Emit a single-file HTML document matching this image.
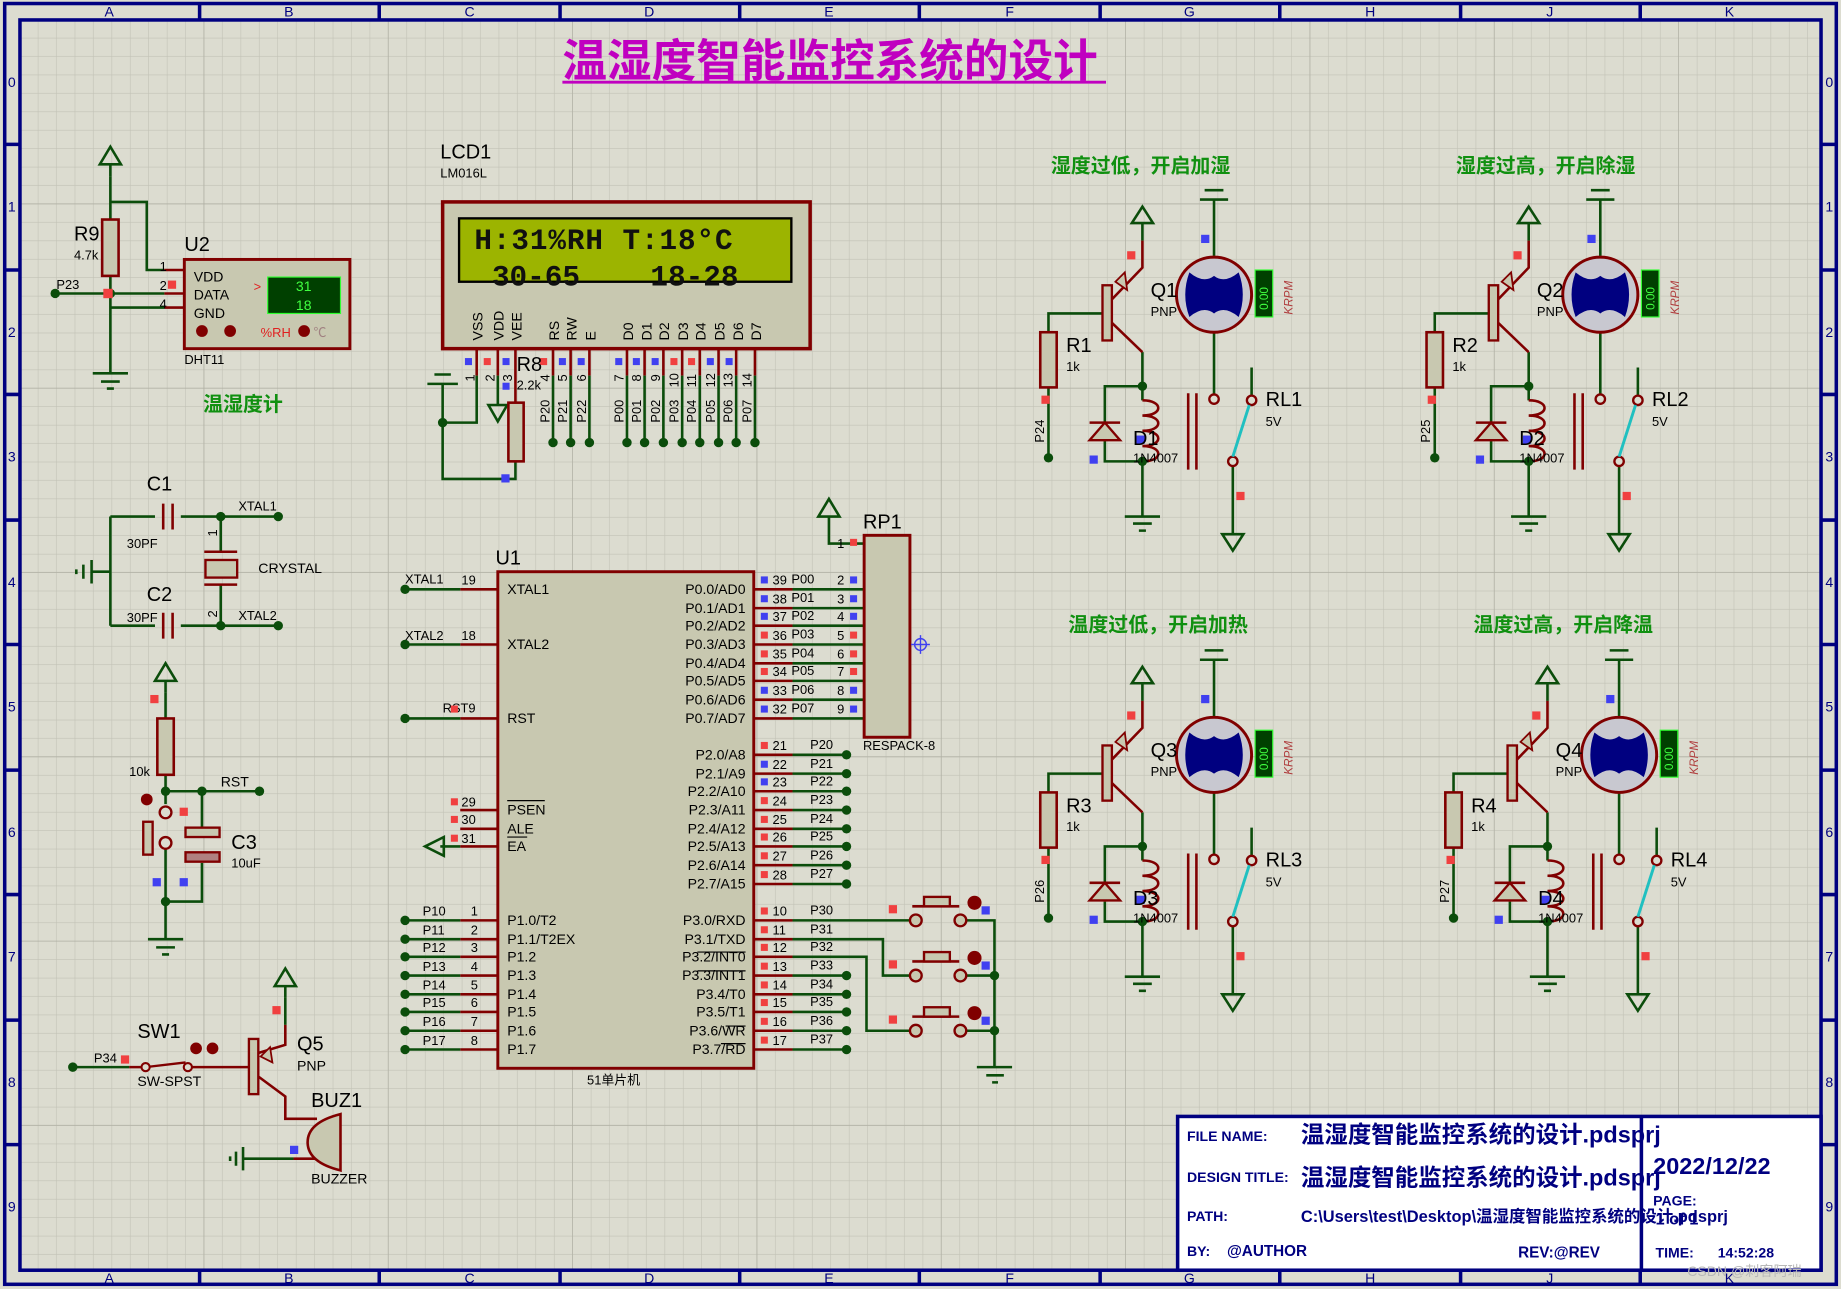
<!DOCTYPE html>
<html><head><meta charset="utf-8"><style>
html,body{margin:0;padding:0;background:#dcdcd0}
svg{display:block}
text{font-family:"Liberation Sans","Noto Sans CJK SC",sans-serif}
text.mono{font-family:"Liberation Mono",monospace}
</style></head><body>
<svg width="1841" height="1289" viewBox="0 0 1568 1098" preserveAspectRatio="none" xmlns="http://www.w3.org/2000/svg">
<defs>
<pattern id="gs" width="15.7" height="15.7" patternUnits="userSpaceOnUse" x="17" y="17">
<path d="M15.7 0V15.7H0" fill="none" stroke="#c2c2b6" stroke-width="1"/></pattern>
<pattern id="gm" width="157" height="157" patternUnits="userSpaceOnUse" x="17" y="17">
<path d="M157 0V157H0" fill="none" stroke="#b0b0a4" stroke-width="1.2"/></pattern>
<g id="relay">
<g fill="none" stroke="#0b4d0b" stroke-width="2.2">
<path d="M893 283V267H941 M893 330V390 M973 205V190 M973 300V341 M973 329H941V360 M941 376V393H973 M973 393V440 M1034 170V218 M1034 283V336 M1066 313V337 M1050 397V455"/>
<path d="M958 440H988 M965 446H981 M970 452H976 M1022 170H1046 M1026 162H1042"/>
<path d="M964 190L973 176L982 190Z M1041 455H1059L1050 469Z"/>
</g>
<rect x="886" y="283" width="14" height="47" fill="#c8c8b0" stroke="#800000" stroke-width="2.2"/>
<rect x="939" y="243" width="8" height="47" fill="#c8c8b0" stroke="#800000" stroke-width="2"/>
<g fill="none" stroke="#800000" stroke-width="2.2">
<path d="M947 255L973 228V205 M947 275L973 300"/>
<path d="M973 341c18 0 18 13 0 13c18 0 18 13 0 13c18 0 18 13 0 13c18 0 18 13 0 13"/>
<path d="M1012 335V400 M1019 335V400"/>
<path d="M928 360H954 M941 360V376"/>
</g>
<path d="M950 240L958 232L960 247Z" fill="#c8c8b0" stroke="#800000" stroke-width="1.5"/>
<path d="M928 375H954L941 360Z" fill="#c8c8b0" stroke="#800000" stroke-width="2"/>
<circle cx="1034" cy="251" r="32" fill="#c8c8d0" stroke="#800000" stroke-width="2.5"/>
<path d="M1013 232Q1025 242 1034 235Q1043 242 1055 232Q1062 251 1055 270Q1043 260 1034 267Q1025 260 1013 270Q1006 251 1013 232Z" fill="#000080"/>
<ellipse cx="1034" cy="251" rx="13" ry="12" fill="#000080"/>
<circle cx="1034" cy="340" r="4" fill="#dcdcd0" stroke="#800000" stroke-width="2"/>
<circle cx="1066" cy="341" r="4" fill="#dcdcd0" stroke="#800000" stroke-width="2"/>
<circle cx="1050" cy="393" r="4" fill="#dcdcd0" stroke="#800000" stroke-width="2"/>
<path d="M1064 345L1050 389" stroke="#20c0c0" stroke-width="2.5"/>
<rect x="1069" y="230" width="15" height="40" fill="#004000" stroke="#30ff30" stroke-width="1"/>
<circle cx="893" cy="390" r="4" fill="#0b4d0b"/><circle cx="973" cy="329" r="4" fill="#0b4d0b"/><circle cx="973" cy="393" r="4" fill="#0b4d0b"/>
<rect x="960" y="214" width="7" height="7" fill="#f04040"/><rect x="1023" y="200" width="7" height="7" fill="#4040f0"/>
<rect x="887" y="337" width="7" height="7" fill="#f04040"/><rect x="928" y="388" width="7" height="7" fill="#4040f0"/>
<rect x="968" y="371" width="7" height="7" fill="#4040f0"/><rect x="1053" y="419" width="7" height="7" fill="#f04040"/>
</g>
<g id="gnd" fill="none" stroke="#0b4d0b" stroke-width="2.2"><path d="M-15 0H15 M-8 7H8 M-3 13H3"/></g>
<g id="pwr" fill="none" stroke="#0b4d0b" stroke-width="2.2"><path d="M-9 15L0 0L9 15Z M0 15V25"/></g>
</defs>
<rect width="1568" height="1098" fill="#dcdcd0"/>
<rect x="17" y="17" width="1534" height="1065" fill="url(#gs)"/>
<rect x="17" y="17" width="1534" height="1065" fill="url(#gm)"/>
<!-- frame -->
<g fill="none" stroke="#000080" stroke-width="3">
<rect x="4" y="3" width="1560" height="1091"/><rect x="17" y="17" width="1534" height="1065"/>
<path d="M170 3V17 M323 3V17 M477 3V17 M630 3V17 M783 3V17 M937 3V17 M1090 3V17 M1244 3V17 M1397 3V17 M170 1082V1094 M323 1082V1094 M477 1082V1094 M630 1082V1094 M783 1082V1094 M937 1082V1094 M1090 1082V1094 M1244 1082V1094 M1397 1082V1094"/>
<path d="M4 123H17 M4 230H17 M4 336H17 M4 443H17 M4 549H17 M4 656H17 M4 762H17 M4 869H17 M4 975H17 M1551 123H1564 M1551 230H1564 M1551 336H1564 M1551 443H1564 M1551 549H1564 M1551 656H1564 M1551 762H1564 M1551 869H1564 M1551 975H1564"/>
</g>
<g fill="#000080" font-size="12" text-anchor="middle">
<text x="93" y="14">A</text><text x="246" y="14">B</text><text x="400" y="14">C</text><text x="553" y="14">D</text><text x="706" y="14">E</text><text x="860" y="14">F</text><text x="1013" y="14">G</text><text x="1167" y="14">H</text><text x="1320" y="14">J</text><text x="1473" y="14">K</text>
<text x="93" y="1093">A</text><text x="246" y="1093">B</text><text x="400" y="1093">C</text><text x="553" y="1093">D</text><text x="706" y="1093">E</text><text x="860" y="1093">F</text><text x="1013" y="1093">G</text><text x="1167" y="1093">H</text><text x="1320" y="1093">J</text><text x="1473" y="1093">K</text>
<text x="10" y="74">0</text><text x="10" y="180">1</text><text x="10" y="287">2</text><text x="10" y="393">3</text><text x="10" y="500">4</text><text x="10" y="606">5</text><text x="10" y="713">6</text><text x="10" y="819">7</text><text x="10" y="926">8</text><text x="10" y="1032">9</text>
<text x="1558" y="74">0</text><text x="1558" y="180">1</text><text x="1558" y="287">2</text><text x="1558" y="393">3</text><text x="1558" y="500">4</text><text x="1558" y="606">5</text><text x="1558" y="713">6</text><text x="1558" y="819">7</text><text x="1558" y="926">8</text><text x="1558" y="1032">9</text>
</g>
<!-- title -->
<text x="479" y="65" font-size="38" font-weight="bold" fill="#c000c0">温湿度智能监控系统的设计</text>
<path d="M479 70H942" stroke="#c000c0" stroke-width="2.5"/>

<!-- DHT11 -->
<use href="#pwr" x="94" y="125"/>
<g fill="none" stroke="#0b4d0b" stroke-width="2.2">
<path d="M94 150V187 M94 172H125V230H140 M47 250H140 M94 235V318 M94 262H140"/>
</g>
<use href="#gnd" x="94" y="318"/>
<path d="M140 230H157 M140 250H157 M140 262H157" stroke="#800000" stroke-width="2.2"/>
<rect x="87" y="187" width="14" height="48" fill="#c8c8b0" stroke="#800000" stroke-width="2.2"/>
<circle cx="47" cy="250" r="4" fill="#0b4d0b"/><circle cx="94" cy="250" r="4" fill="#0b4d0b"/>
<rect x="88" y="246" width="8" height="8" fill="#f04040"/><rect x="143" y="239" width="7" height="7" fill="#f04040"/>
<rect x="157" y="221" width="141" height="76" fill="#c8c8b0" stroke="#800000" stroke-width="2.5"/>
<rect x="228" y="236" width="62" height="31" fill="#004000" stroke="#30ff30" stroke-width="1"/>
<text x="252" y="248" font-size="12" fill="#40ff40">31</text><text x="252" y="264" font-size="12" fill="#40ff40">18</text>
<text x="216" y="248" font-size="11" fill="#e02020">&gt;</text>
<circle cx="172" cy="282" r="5" fill="#800000"/><circle cx="196" cy="282" r="5" fill="#800000"/><circle cx="259" cy="282" r="5" fill="#800000"/>
<text x="222" y="287" font-size="11" fill="#e02020">%RH</text><text x="267" y="287" font-size="11" fill="#a08080">℃</text>
<g font-size="12" fill="#000"><text x="165" y="240">VDD</text><text x="165" y="255">DATA</text><text x="165" y="271">GND</text>
<text x="136" y="231" font-size="11">1</text><text x="136" y="247" font-size="11">2</text><text x="136" y="263" font-size="11">4</text>
<text x="157" y="310" font-size="11">DHT11</text><text x="48" y="246" font-size="11">P23</text><text x="63" y="221" font-size="11">4.7k</text></g>
<text x="157" y="214" font-size="17">U2</text><text x="63" y="205" font-size="17">R9</text>
<text x="173" y="350" font-size="17" font-weight="bold" fill="#109010">温湿度计</text>

<!-- LCD -->
<text x="375" y="135" font-size="17">LCD1</text><text x="375" y="151" font-size="11">LM016L</text>
<rect x="377" y="172" width="313" height="125" fill="#c8c8b0" stroke="#800000" stroke-width="3"/>
<rect x="391" y="186" width="283" height="54" fill="#9cb400" stroke="#000" stroke-width="2"/>
<text class="mono" x="404" y="212" font-size="25" font-weight="bold" fill="#101010" xml:space="preserve" textLength="220">H:31%RH T:18°C</text>
<text class="mono" x="404" y="243" font-size="25" font-weight="bold" fill="#101010" xml:space="preserve"> 30-65    18-28</text>
<g font-size="12" fill="#000">
<text transform="translate(411,290) rotate(-90)">VSS</text><text transform="translate(429,290) rotate(-90)">VDD</text><text transform="translate(444,290) rotate(-90)">VEE</text>
<text transform="translate(476,290) rotate(-90)">RS</text><text transform="translate(491,290) rotate(-90)">RW</text><text transform="translate(507,290) rotate(-90)">E</text>
<text transform="translate(539,290) rotate(-90)">D0</text><text transform="translate(555,290) rotate(-90)">D1</text><text transform="translate(570,290) rotate(-90)">D2</text><text transform="translate(586,290) rotate(-90)">D3</text><text transform="translate(601,290) rotate(-90)">D4</text><text transform="translate(617,290) rotate(-90)">D5</text><text transform="translate(633,290) rotate(-90)">D6</text><text transform="translate(648,290) rotate(-90)">D7</text>
<g font-size="11"><text transform="translate(404,325) rotate(-90)">1</text><text transform="translate(421,325) rotate(-90)">2</text><text transform="translate(436,325) rotate(-90)">3</text><text transform="translate(468,325) rotate(-90)">4</text><text transform="translate(483,325) rotate(-90)">5</text><text transform="translate(499,325) rotate(-90)">6</text><text transform="translate(531,325) rotate(-90)">7</text><text transform="translate(546,325) rotate(-90)">8</text><text transform="translate(562,325) rotate(-90)">9</text><text transform="translate(578,330) rotate(-90)">10</text><text transform="translate(593,330) rotate(-90)">11</text><text transform="translate(609,330) rotate(-90)">12</text><text transform="translate(624,330) rotate(-90)">13</text><text transform="translate(640,330) rotate(-90)">14</text>
<text transform="translate(468,360) rotate(-90)">P20</text><text transform="translate(483,360) rotate(-90)">P21</text><text transform="translate(499,360) rotate(-90)">P22</text><text transform="translate(531,360) rotate(-90)">P00</text><text transform="translate(546,360) rotate(-90)">P01</text><text transform="translate(562,360) rotate(-90)">P02</text><text transform="translate(578,360) rotate(-90)">P03</text><text transform="translate(593,360) rotate(-90)">P04</text><text transform="translate(609,360) rotate(-90)">P05</text><text transform="translate(624,360) rotate(-90)">P06</text><text transform="translate(640,360) rotate(-90)">P07</text></g>
</g>
<g stroke="#800000" stroke-width="2.2"><path d="M406 297V320 M424 297V320 M439 297V343 M471 297V320 M486 297V320 M502 297V320 M534 297V320 M549 297V320 M565 297V320 M581 297V320 M596 297V320 M612 297V320 M627 297V320 M643 297V320"/></g>
<g fill="none" stroke="#0b4d0b" stroke-width="2.2"><path d="M406 320V360H377 M377 327V408H439V393 M424 320V345 M471 320V377 M486 320V377 M502 320V377 M534 320V377 M549 320V377 M565 320V377 M581 320V377 M596 320V377 M612 320V377 M627 320V377 M643 320V377 M364 327H390 M370 319H384"/>
<path d="M416 345H432L424 359Z"/></g>
<rect x="433" y="343" width="13" height="50" fill="#c8c8b0" stroke="#800000" stroke-width="2.2"/>
<g fill="#0b4d0b"><circle cx="377" cy="360" r="4"/><circle cx="471" cy="377" r="4"/><circle cx="486" cy="377" r="4"/><circle cx="502" cy="377" r="4"/><circle cx="534" cy="377" r="4"/><circle cx="549" cy="377" r="4"/><circle cx="565" cy="377" r="4"/><circle cx="581" cy="377" r="4"/><circle cx="596" cy="377" r="4"/><circle cx="612" cy="377" r="4"/><circle cx="627" cy="377" r="4"/><circle cx="643" cy="377" r="4"/></g>
<g fill="#4040f0"><rect x="396" y="305" width="6" height="6"/><rect x="428" y="305" width="6" height="6"/><rect x="476" y="305" width="6" height="6"/><rect x="492" y="305" width="6" height="6"/><rect x="524" y="305" width="6" height="6"/><rect x="539" y="305" width="6" height="6"/><rect x="555" y="305" width="6" height="6"/><rect x="602" y="305" width="6" height="6"/><rect x="618" y="305" width="6" height="6"/><rect x="428" y="326" width="6" height="6"/><rect x="427" y="404" width="7" height="7"/></g>
<g fill="#f04040"><rect x="412" y="305" width="6" height="6"/><rect x="460" y="305" width="6" height="6"/><rect x="571" y="305" width="6" height="6"/><rect x="586" y="305" width="6" height="6"/></g>
<text x="440" y="316" font-size="17">R8</text><text x="440" y="332" font-size="11">2.2k</text>

<!-- crystal -->
<g fill="none" stroke="#0b4d0b" stroke-width="2.2"><path d="M94 440H132 M154 440H237 M94 533H132 M154 533H237 M94 440V533 M94 487H78 M188 440V470 M188 498V533"/>
<path d="M78 477V497 M71 481V493 M65 485V489"/></g>
<g fill="none" stroke="#800000" stroke-width="2.2"><path d="M139 429V451 M147 429V451 M139 522V544 M147 522V544 M174 470H202 M174 498H202"/></g>
<rect x="175" y="477" width="27" height="15" fill="#c8c8b0" stroke="#800000" stroke-width="2"/>
<g fill="#0b4d0b"><circle cx="188" cy="440" r="4"/><circle cx="237" cy="440" r="4"/><circle cx="188" cy="533" r="4"/><circle cx="237" cy="533" r="4"/></g>
<text x="125" y="418" font-size="17">C1</text><text x="125" y="512" font-size="17">C2</text>
<g font-size="11"><text x="108" y="467">30PF</text><text x="108" y="530">30PF</text><text x="203" y="435">XTAL1</text><text x="203" y="528">XTAL2</text><text x="220" y="488" font-size="12">CRYSTAL</text>
<text transform="translate(185,457) rotate(-90)">1</text><text transform="translate(185,526) rotate(-90)">2</text></g>

<!-- reset -->
<use href="#pwr" x="141" y="565"/>
<g fill="none" stroke="#0b4d0b" stroke-width="2.2"><path d="M141 590V612 M141 660V685 M141 674H221 M172 674V705 M141 722V800 M141 768H172V735"/></g>
<use href="#gnd" x="141" y="800"/>
<rect x="134" y="612" width="14" height="48" fill="#c8c8b0" stroke="#800000" stroke-width="2.2"/>
<circle cx="141" cy="692" r="5" fill="#dcdcd0" stroke="#800000" stroke-width="2"/><circle cx="141" cy="718" r="5" fill="#dcdcd0" stroke="#800000" stroke-width="2"/>
<rect x="122" y="700" width="8" height="28" fill="#c8c8b0" stroke="#800000" stroke-width="2"/>
<circle cx="125" cy="681" r="5" fill="#800000"/>
<rect x="158" y="705" width="29" height="8" fill="#c8c8b0" stroke="#800000" stroke-width="2"/>
<rect x="158" y="726" width="29" height="8" fill="#b08080" stroke="#800000" stroke-width="2"/>
<g fill="#0b4d0b"><circle cx="141" cy="674" r="4"/><circle cx="172" cy="674" r="4"/><circle cx="221" cy="674" r="4"/><circle cx="141" cy="768" r="4"/></g>
<rect x="128" y="592" width="7" height="7" fill="#f04040"/><rect x="153" y="688" width="7" height="7" fill="#f04040"/><rect x="130" y="748" width="7" height="7" fill="#4040f0"/><rect x="153" y="748" width="7" height="7" fill="#4040f0"/>
<text x="110" y="661" font-size="11">10k</text><text x="188" y="670" font-size="12">RST</text><text x="197" y="723" font-size="17">C3</text><text x="197" y="739" font-size="11">10uF</text>

<!-- SW1 Q5 buzzer -->
<g fill="none" stroke="#0b4d0b" stroke-width="2.2"><path d="M62 909H110 M243 850V873 M207 987H250 M207 977V997 M201 981V993 M196 985V989"/></g>
<use href="#pwr" x="243" y="825"/>
<path d="M110 909H120 M162 909H212 M243 873V890L220 897 M220 917L243 934V953H270 M250 987H270" fill="none" stroke="#800000" stroke-width="2.2"/>
<path d="M124 909L158 905" stroke="#800000" stroke-width="2"/>
<circle cx="124" cy="909" r="3.5" fill="#dcdcd0" stroke="#800000" stroke-width="1.8"/><circle cx="160" cy="909" r="3.5" fill="#dcdcd0" stroke="#800000" stroke-width="1.8"/>
<circle cx="167" cy="893" r="5" fill="#800000"/><circle cx="181" cy="893" r="5" fill="#800000"/>
<rect x="212" y="885" width="8" height="47" fill="#c8c8b0" stroke="#800000" stroke-width="2"/>
<path d="M222 900L230 892L232 905Z" fill="#c8c8b0" stroke="#800000" stroke-width="1.5"/>
<path d="M290 949V997Q262 990 262 973Q262 956 290 949Z" fill="#c8c8b0" stroke="#800000" stroke-width="2.2"/>
<circle cx="62" cy="909" r="4" fill="#0b4d0b"/>
<rect x="103" y="899" width="7" height="7" fill="#f04040"/><rect x="232" y="857" width="7" height="7" fill="#f04040"/><rect x="247" y="976" width="7" height="7" fill="#4040f0"/>
<text x="117" y="884" font-size="17">SW1</text><text x="117" y="925" font-size="12">SW-SPST</text><text x="80" y="905" font-size="11">P34</text>
<text x="253" y="895" font-size="17">Q5</text><text x="253" y="912" font-size="12">PNP</text><text x="265" y="943" font-size="17">BUZ1</text><text x="265" y="1008" font-size="12">BUZZER</text>

<!-- U1 -->
<rect x="424" y="487" width="218" height="423" fill="#c8c8b0" stroke="#800000" stroke-width="2.5"/>
<text x="422" y="481" font-size="17">U1</text><text x="500" y="924" font-size="11">51单片机</text>
<g fill="none" stroke="#800000" stroke-width="2.2"><path d="M392 502H424 M392 549H424 M392 612H424 M392 690H424 M392 706H424 M392 721H424 M392 784H424 M392 800H424 M392 815H424 M392 831H424 M392 847H424 M392 862H424 M392 878H424 M392 894H424"/>
<path d="M642 502H675 M642 518H675 M642 533H675 M642 549H675 M642 565H675 M642 580H675 M642 596H675 M642 612H675 M642 643H675 M642 659H675 M642 674H675 M642 690H675 M642 706H675 M642 721H675 M642 737H675 M642 753H675 M642 784H675 M642 800H675 M642 815H675 M642 831H675 M642 847H675 M642 862H675 M642 878H675 M642 894H675"/></g>
<g fill="none" stroke="#0b4d0b" stroke-width="2.2"><path d="M345 502H392 M345 549H392 M345 612H392 M345 784H392 M345 800H392 M345 815H392 M345 831H392 M345 847H392 M345 862H392 M345 878H392 M345 894H392 M375 721H392 M362 721L378 713V729Z"/>
<path d="M675 502H736 M675 518H736 M675 533H736 M675 549H736 M675 565H736 M675 580H736 M675 596H736 M675 612H736 M706 440V463H736 M697 440L706 425L715 440Z"/>
<path d="M675 643H721 M675 659H721 M675 674H721 M675 690H721 M675 706H721 M675 721H721 M675 737H721 M675 753H721 M675 831H721 M675 847H721 M675 862H721 M675 878H721 M675 894H721"/>
<path d="M675 784H776 M675 800H752V831H776 M675 815H738V878H776 M822 784H847V909 M822 831H847 M822 878H847 M832 909H862 M840 916H855 M845 922H850"/></g>
<g fill="#0b4d0b"><circle cx="345" cy="502" r="4"/><circle cx="345" cy="549" r="4"/><circle cx="345" cy="612" r="4"/><circle cx="345" cy="784" r="4"/><circle cx="345" cy="800" r="4"/><circle cx="345" cy="815" r="4"/><circle cx="345" cy="831" r="4"/><circle cx="345" cy="847" r="4"/><circle cx="345" cy="862" r="4"/><circle cx="345" cy="878" r="4"/><circle cx="345" cy="894" r="4"/>
<circle cx="721" cy="643" r="4"/><circle cx="721" cy="659" r="4"/><circle cx="721" cy="674" r="4"/><circle cx="721" cy="690" r="4"/><circle cx="721" cy="706" r="4"/><circle cx="721" cy="721" r="4"/><circle cx="721" cy="737" r="4"/><circle cx="721" cy="753" r="4"/><circle cx="721" cy="831" r="4"/><circle cx="721" cy="847" r="4"/><circle cx="721" cy="862" r="4"/><circle cx="721" cy="878" r="4"/><circle cx="721" cy="894" r="4"/><circle cx="847" cy="831" r="4"/><circle cx="847" cy="878" r="4"/></g>
<!-- buttons -->
<g fill="none" stroke="#800000" stroke-width="2.2"><path d="M777 772H817 M777 819H817 M777 866H817"/></g>
<g fill="#c8c8b0" stroke="#800000" stroke-width="2"><rect x="787" y="764" width="22" height="8"/><rect x="787" y="811" width="22" height="8"/><rect x="787" y="858" width="22" height="8"/>
<circle cx="780" cy="784" r="5"/><circle cx="818" cy="784" r="5"/><circle cx="780" cy="831" r="5"/><circle cx="818" cy="831" r="5"/><circle cx="780" cy="878" r="5"/><circle cx="818" cy="878" r="5"/></g>
<g fill="#800000"><circle cx="830" cy="769" r="6"/><circle cx="830" cy="816" r="6"/><circle cx="830" cy="863" r="6"/></g>
<g fill="#4040f0"><rect x="836" y="772" width="7" height="7"/><rect x="836" y="819" width="7" height="7"/><rect x="836" y="866" width="7" height="7"/></g>
<g fill="#f04040"><rect x="757" y="771" width="7" height="7"/><rect x="757" y="818" width="7" height="7"/><rect x="757" y="865" width="7" height="7"/></g>
<!-- U1 labels -->
<g font-size="12" fill="#000">
<text x="432" y="506">XTAL1</text><text x="432" y="553">XTAL2</text><text x="432" y="616">RST</text>
<text x="432" y="694">PSEN</text><text x="432" y="710">ALE</text><text x="432" y="725">EA</text>
<text x="432" y="788">P1.0/T2</text><text x="432" y="804">P1.1/T2EX</text><text x="432" y="819">P1.2</text><text x="432" y="835">P1.3</text><text x="432" y="851">P1.4</text><text x="432" y="866">P1.5</text><text x="432" y="882">P1.6</text><text x="432" y="898">P1.7</text>
<g text-anchor="end"><text x="635" y="506">P0.0/AD0</text><text x="635" y="522">P0.1/AD1</text><text x="635" y="537">P0.2/AD2</text><text x="635" y="553">P0.3/AD3</text><text x="635" y="569">P0.4/AD4</text><text x="635" y="584">P0.5/AD5</text><text x="635" y="600">P0.6/AD6</text><text x="635" y="616">P0.7/AD7</text>
<text x="635" y="647">P2.0/A8</text><text x="635" y="663">P2.1/A9</text><text x="635" y="678">P2.2/A10</text><text x="635" y="694">P2.3/A11</text><text x="635" y="710">P2.4/A12</text><text x="635" y="725">P2.5/A13</text><text x="635" y="741">P2.6/A14</text><text x="635" y="757">P2.7/A15</text>
<text x="635" y="788">P3.0/RXD</text><text x="635" y="804">P3.1/TXD</text><text x="635" y="819">P3.2/INT0</text><text x="635" y="835">P3.3/INT1</text><text x="635" y="851">P3.4/T0</text><text x="635" y="866">P3.5/T1</text><text x="635" y="882">P3.6/WR</text><text x="635" y="898">P3.7/RD</text></g>
<g font-size="11"><text x="345" y="497">XTAL1</text><text x="393" y="498">19</text><text x="345" y="545">XTAL2</text><text x="393" y="545">18</text><text x="377" y="607">RST9</text>
<text x="393" y="687">29</text><text x="393" y="702">30</text><text x="393" y="718">31</text>
<text x="360" y="780">P10</text><text x="360" y="796">P11</text><text x="360" y="811">P12</text><text x="360" y="827">P13</text><text x="360" y="843">P14</text><text x="360" y="858">P15</text><text x="360" y="874">P16</text><text x="360" y="890">P17</text>
<text x="401" y="780">1</text><text x="401" y="796">2</text><text x="401" y="811">3</text><text x="401" y="827">4</text><text x="401" y="843">5</text><text x="401" y="858">6</text><text x="401" y="874">7</text><text x="401" y="890">8</text>
<text x="658" y="498">39</text><text x="658" y="514">38</text><text x="658" y="529">37</text><text x="658" y="545">36</text><text x="658" y="561">35</text><text x="658" y="576">34</text><text x="658" y="592">33</text><text x="658" y="608">32</text>
<text x="674" y="497">P00</text><text x="674" y="513">P01</text><text x="674" y="528">P02</text><text x="674" y="544">P03</text><text x="674" y="560">P04</text><text x="674" y="575">P05</text><text x="674" y="591">P06</text><text x="674" y="607">P07</text>
<text x="713" y="498">2</text><text x="713" y="514">3</text><text x="713" y="529">4</text><text x="713" y="545">5</text><text x="713" y="561">6</text><text x="713" y="576">7</text><text x="713" y="592">8</text><text x="713" y="608">9</text><text x="713" y="467">1</text>
<text x="658" y="639">21</text><text x="658" y="655">22</text><text x="658" y="670">23</text><text x="658" y="686">24</text><text x="658" y="702">25</text><text x="658" y="717">26</text><text x="658" y="733">27</text><text x="658" y="749">28</text>
<text x="690" y="638">P20</text><text x="690" y="654">P21</text><text x="690" y="669">P22</text><text x="690" y="685">P23</text><text x="690" y="701">P24</text><text x="690" y="716">P25</text><text x="690" y="732">P26</text><text x="690" y="748">P27</text>
<text x="658" y="780">10</text><text x="658" y="796">11</text><text x="658" y="811">12</text><text x="658" y="827">13</text><text x="658" y="843">14</text><text x="658" y="858">15</text><text x="658" y="874">16</text><text x="658" y="890">17</text>
<text x="690" y="779">P30</text><text x="690" y="795">P31</text><text x="690" y="810">P32</text><text x="690" y="826">P33</text><text x="690" y="842">P34</text><text x="690" y="857">P35</text><text x="690" y="873">P36</text><text x="690" y="889">P37</text></g>
</g>
<path d="M432 682H464 M432 713H449 M594 811H635 M594 827H635 M618 874H635 M614 889H635" stroke="#000" stroke-width="1"/>
<g fill="#4040f0"><rect x="648" y="491" width="6" height="6"/><rect x="648" y="507" width="6" height="6"/><rect x="648" y="522" width="6" height="6"/><rect x="648" y="585" width="6" height="6"/><rect x="648" y="601" width="6" height="6"/><rect x="648" y="648" width="6" height="6"/><rect x="648" y="663" width="6" height="6"/><rect x="724" y="491" width="6" height="6"/><rect x="724" y="507" width="6" height="6"/><rect x="724" y="522" width="6" height="6"/><rect x="724" y="585" width="6" height="6"/><rect x="724" y="601" width="6" height="6"/></g>
<g fill="#f04040"><rect x="648" y="538" width="6" height="6"/><rect x="648" y="554" width="6" height="6"/><rect x="648" y="569" width="6" height="6"/><rect x="648" y="632" width="6" height="6"/><rect x="648" y="679" width="6" height="6"/><rect x="648" y="695" width="6" height="6"/><rect x="648" y="710" width="6" height="6"/><rect x="648" y="726" width="6" height="6"/><rect x="648" y="742" width="6" height="6"/><rect x="648" y="773" width="6" height="6"/><rect x="648" y="789" width="6" height="6"/><rect x="648" y="804" width="6" height="6"/><rect x="648" y="820" width="6" height="6"/><rect x="648" y="836" width="6" height="6"/><rect x="648" y="851" width="6" height="6"/><rect x="648" y="867" width="6" height="6"/><rect x="648" y="883" width="6" height="6"/><rect x="724" y="538" width="6" height="6"/><rect x="724" y="554" width="6" height="6"/><rect x="724" y="569" width="6" height="6"/><rect x="724" y="459" width="6" height="6"/><rect x="384" y="601" width="6" height="6"/><rect x="384" y="680" width="6" height="6"/><rect x="384" y="695" width="6" height="6"/><rect x="384" y="711" width="6" height="6"/></g>
<!-- RP1 -->
<rect x="736" y="456" width="39" height="172" fill="#c8c8b0" stroke="#800000" stroke-width="2.5"/>
<text x="735" y="450" font-size="17">RP1</text><text x="735" y="639" font-size="11">RESPACK-8</text>
<g stroke="#4040f0" stroke-width="1.2" fill="none"><circle cx="784" cy="549" r="5"/><path d="M776 549H792 M784 541V557"/></g>

<!-- relays -->
<text x="895" y="147" font-size="17" font-weight="bold" fill="#109010">湿度过低，开启加湿</text>
<text x="1240" y="147" font-size="17" font-weight="bold" fill="#109010">湿度过高，开启除湿</text>
<text x="910" y="538" font-size="17" font-weight="bold" fill="#109010">温度过低，开启加热</text>
<text x="1255" y="538" font-size="17" font-weight="bold" fill="#109010">温度过高，开启降温</text>
<use href="#relay"/>
<use href="#relay" x="329" y="0"/>
<use href="#relay" x="0" y="392"/>
<use href="#relay" x="345" y="392"/>
<g font-size="17"><text x="980" y="253">Q1</text><text x="908" y="300">R1</text><text x="965" y="379">D1</text><text x="1078" y="346">RL1</text>
<text x="1309" y="253">Q2</text><text x="1237" y="300">R2</text><text x="1294" y="379">D2</text><text x="1407" y="346">RL2</text>
<text x="980" y="645">Q3</text><text x="908" y="692">R3</text><text x="965" y="771">D3</text><text x="1078" y="738">RL3</text>
<text x="1325" y="645">Q4</text><text x="1253" y="692">R4</text><text x="1310" y="771">D4</text><text x="1423" y="738">RL4</text></g>
<g font-size="11"><text x="980" y="269">PNP</text><text x="908" y="316">1k</text><text x="965" y="394">1N4007</text><text x="1078" y="363">5V</text>
<text x="1309" y="269">PNP</text><text x="1237" y="316">1k</text><text x="1294" y="394">1N4007</text><text x="1407" y="363">5V</text>
<text x="980" y="661">PNP</text><text x="908" y="708">1k</text><text x="965" y="786">1N4007</text><text x="1078" y="755">5V</text>
<text x="1325" y="661">PNP</text><text x="1253" y="708">1k</text><text x="1310" y="786">1N4007</text><text x="1423" y="755">5V</text>
<text transform="translate(889,377) rotate(-90)">P24</text><text transform="translate(1218,377) rotate(-90)">P25</text><text transform="translate(889,769) rotate(-90)">P26</text><text transform="translate(1234,769) rotate(-90)">P27</text>
<g fill="#40ff40" font-size="10"><text transform="translate(1080,264) rotate(-90)">0.00</text><text transform="translate(1409,264) rotate(-90)">0.00</text><text transform="translate(1080,656) rotate(-90)">0.00</text><text transform="translate(1425,656) rotate(-90)">0.00</text></g>
<g fill="#b04040" font-style="italic" font-size="10"><text transform="translate(1101,268) rotate(-90)">KRPM</text><text transform="translate(1430,268) rotate(-90)">KRPM</text><text transform="translate(1101,660) rotate(-90)">KRPM</text><text transform="translate(1446,660) rotate(-90)">KRPM</text></g></g>

<!-- title block -->
<rect x="1003" y="951" width="548" height="131" fill="#fff" stroke="#000080" stroke-width="3"/>
<path d="M1398 951V1082" stroke="#000080" stroke-width="3"/>
<g fill="#000080" font-weight="bold">
<text x="1011" y="972" font-size="12">FILE NAME:</text><text x="1108" y="973" font-size="20">温湿度智能监控系统的设计.pdsprj</text>
<text x="1011" y="1007" font-size="12">DESIGN TITLE:</text><text x="1108" y="1010" font-size="20">温湿度智能监控系统的设计.pdsprj</text>
<text x="1011" y="1040" font-size="12">PATH:</text><text x="1108" y="1041" font-size="14">C:\Users\test\Desktop\温湿度智能监控系统的设计.pdsprj</text>
<text x="1011" y="1070" font-size="12">BY:</text><text x="1045" y="1070" font-size="13">@AUTHOR</text>
<text x="1293" y="1071" font-size="13">REV:@REV</text>
<text x="1408" y="1000" font-size="20">2022/12/22</text>
<text x="1408" y="1027" font-size="12">PAGE:</text><text x="1410" y="1043" font-size="14">1  of  1</text>
<text x="1410" y="1071" font-size="12">TIME:</text><text x="1463" y="1071" font-size="12">14:52:28</text>
</g>
<text x="1437" y="1087" font-size="12" fill="#b8b8b8">CSDN @刺客阿瑞</text>
</svg>
</body></html>
